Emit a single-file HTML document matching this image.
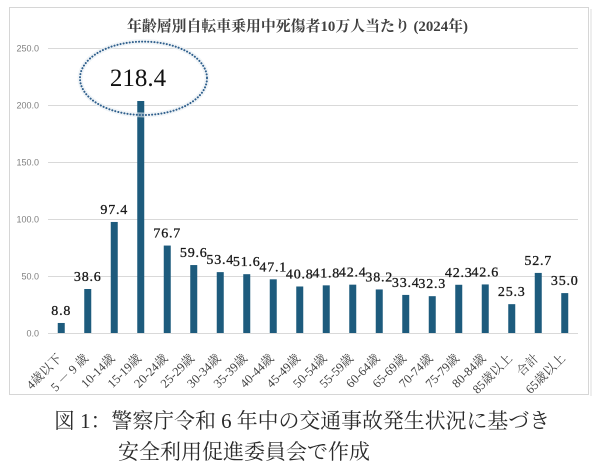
<!DOCTYPE html>
<html>
<head>
<meta charset="utf-8">
<style>
html,body{margin:0;padding:0;background:#fff;}
svg{display:block;}
.yl{font-family:"Liberation Sans",sans-serif;font-size:9px;fill:#7f7f7f;}
.dl{font-family:"Liberation Serif","Noto Serif CJK SC",serif;font-size:14px;fill:#1a1a1a;stroke:#1a1a1a;stroke-width:0.3px;letter-spacing:0.8px;}
.xl{font-family:"Liberation Serif","Noto Serif CJK SC",serif;font-size:12.5px;fill:#404040;}
.cap{font-family:"Liberation Serif","Noto Serif CJK SC",serif;font-size:21px;fill:#2a2a2a;}
</style>
</head>
<body>
<svg width="600" height="467" viewBox="0 0 600 467" xmlns="http://www.w3.org/2000/svg">
<rect x="0" y="0" width="600" height="467" fill="#fff"/>
<rect x="9.5" y="7.5" width="579" height="387" fill="#fff" stroke="#d6d6d6" stroke-width="1"/>
<line x1="591" y1="9" x2="591" y2="396" stroke="#eeeeee" stroke-width="2"/>

<text x="127" y="31" textLength="341" lengthAdjust="spacingAndGlyphs" style="font-family:'Liberation Serif','Noto Serif CJK SC',serif;font-size:15px;font-weight:bold;fill:#404040;">年齢層別自転車乗用中死傷者10万人当たり (2024年)</text>

<g stroke="#d9d9d9" stroke-width="1">
<line x1="48" y1="48.5" x2="578" y2="48.5"/>
<line x1="48" y1="105.5" x2="578" y2="105.5"/>
<line x1="48" y1="162.5" x2="578" y2="162.5"/>
<line x1="48" y1="219.5" x2="578" y2="219.5"/>
<line x1="48" y1="276.5" x2="578" y2="276.5"/>
<line x1="48" y1="333.5" x2="578" y2="333.5"/>
</g>
<g class="yl" text-anchor="end">
<text x="39" y="51.5">250.0</text>
<text x="39" y="108.5">200.0</text>
<text x="39" y="165.5">150.0</text>
<text x="39" y="222.5">100.0</text>
<text x="39" y="279.5">50.0</text>
<text x="39" y="336.5">0.0</text>
</g>

<g fill="#1d5b7d">
<rect x="57.75" y="322.97" width="7" height="10.03"/>
<rect x="84.25" y="289" width="7" height="44"/>
<rect x="110.75" y="221.96" width="7" height="111.04"/>
<rect x="137.25" y="101" width="7" height="232"/>
<rect x="163.75" y="245.56" width="7" height="87.44"/>
<rect x="190.25" y="265.06" width="7" height="67.94"/>
<rect x="216.75" y="272.12" width="7" height="60.88"/>
<rect x="243.25" y="274.18" width="7" height="58.82"/>
<rect x="269.75" y="279.31" width="7" height="53.69"/>
<rect x="296.25" y="286.49" width="7" height="46.51"/>
<rect x="322.75" y="285.35" width="7" height="47.65"/>
<rect x="349.25" y="284.66" width="7" height="48.34"/>
<rect x="375.75" y="289.45" width="7" height="43.55"/>
<rect x="402.25" y="294.92" width="7" height="38.08"/>
<rect x="428.75" y="296.18" width="7" height="36.82"/>
<rect x="455.25" y="284.78" width="7" height="48.22"/>
<rect x="481.75" y="284.44" width="7" height="48.56"/>
<rect x="508.25" y="304.16" width="7" height="28.84"/>
<rect x="534.75" y="272.92" width="7" height="60.08"/>
<rect x="561.25" y="293.1" width="7" height="39.9"/>
</g>

<g class="dl" text-anchor="middle">
<text x="61.25" y="315">8.8</text>
<text x="87.75" y="281">38.6</text>
<text x="114.25" y="214">97.4</text>
<text x="167.25" y="237.5">76.7</text>
<text x="193.75" y="257">59.6</text>
<text x="220.25" y="264">53.4</text>
<text x="246.75" y="266">51.6</text>
<text x="273.25" y="271.3">47.1</text>
<text x="299.75" y="278.5">40.8</text>
<text x="326.25" y="277.3">41.8</text>
<text x="352.75" y="276.6">42.4</text>
<text x="379.25" y="281.4">38.2</text>
<text x="405.75" y="286.9">33.4</text>
<text x="432.25" y="288.2">32.3</text>
<text x="458.75" y="276.8">42.3</text>
<text x="485.25" y="276.4">42.6</text>
<text x="511.75" y="296.2">25.3</text>
<text x="538.25" y="264.9">52.7</text>
<text x="564.75" y="285.1">35.0</text>
</g>

<ellipse cx="143.5" cy="78.3" rx="63.5" ry="36.7" fill="none" stroke="#e8eef4" stroke-width="5" opacity="0.6"/>
<ellipse cx="143.5" cy="78.3" rx="63.5" ry="36.7" fill="none" stroke="#2f5f8c" stroke-width="2" stroke-dasharray="0.1 3" stroke-linecap="round"/>
<text x="138" y="86" text-anchor="middle" style="font-family:'Liberation Serif',serif;font-size:25px;fill:#111;">218.4</text>

<g class="xl" text-anchor="end">
<text transform="translate(62.5,359) rotate(-45)">4歳以下</text>
<text transform="translate(89,359) rotate(-45)">5 － 9 歳</text>
<text transform="translate(115.5,359) rotate(-45)">10-14歳</text>
<text transform="translate(142,359) rotate(-45)">15-19歳</text>
<text transform="translate(168.5,359) rotate(-45)">20-24歳</text>
<text transform="translate(195,359) rotate(-45)">25-29歳</text>
<text transform="translate(221.5,359) rotate(-45)">30-34歳</text>
<text transform="translate(248,359) rotate(-45)">35-39歳</text>
<text transform="translate(274.5,359) rotate(-45)">40-44歳</text>
<text transform="translate(301,359) rotate(-45)">45-49歳</text>
<text transform="translate(327.5,359) rotate(-45)">50-54歳</text>
<text transform="translate(354,359) rotate(-45)">55-59歳</text>
<text transform="translate(380.5,359) rotate(-45)">60-64歳</text>
<text transform="translate(407,359) rotate(-45)">65-69歳</text>
<text transform="translate(433.5,359) rotate(-45)">70-74歳</text>
<text transform="translate(460,359) rotate(-45)">75-79歳</text>
<text transform="translate(486.5,359) rotate(-45)">80-84歳</text>
<text transform="translate(513,359) rotate(-45)">85歳以上</text>
<text transform="translate(539.5,359) rotate(-45)">合計</text>
<text transform="translate(566,359) rotate(-45)">65歳以上</text>
</g>

<text class="cap" x="54" y="428" textLength="496" lengthAdjust="spacingAndGlyphs">図 1：警察庁令和 6 年中の交通事故発生状況に基づき</text>
<text class="cap" x="118" y="459" textLength="252" lengthAdjust="spacingAndGlyphs">安全利用促進委員会で作成</text>
</svg>
</body>
</html>
